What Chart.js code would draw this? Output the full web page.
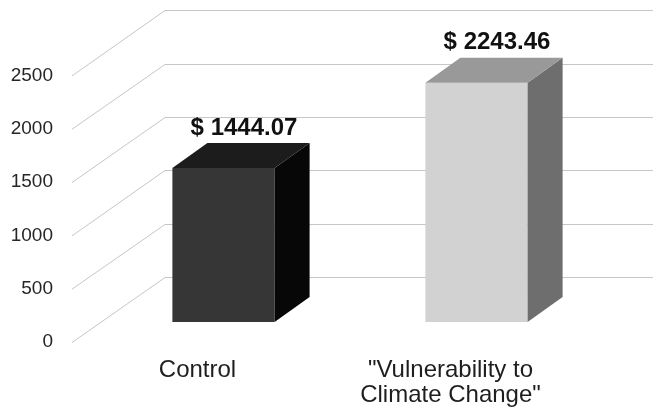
<!DOCTYPE html>
<html>
<head>
<meta charset="utf-8">
<script src="https://cdn.jsdelivr.net/npm/chart.js@4/dist/chart.umd.min.js"></script>
<style>
  html, body { margin: 0; padding: 0; background: #ffffff; }
  canvas { display: block; }
</style>
</head>
<body>
<canvas id="chart" width="653" height="411"></canvas>
<script>
// Categories and average amounts (USD)
const categories = ["Control", ["\"Vulnerability to", "Climate Change\""]];
const amounts = [1444.07, 2243.46];
const yTicks = [0, 500, 1000, 1500, 2000, 2500];

// Face colours for each bar: front, side, top
const frontColors = ["#363636", "#d2d2d2"];
const sideColors = ["#070707", "#6e6e6e"];
const topColors = ["#1c1c1c", "#999999"];

const FONT = "'Liberation Sans', Arial, Helvetica, sans-serif";

// 3D depth of the bars and of the floor / side wall
const BAR_DX = 35, BAR_DY = 25;
const WALL_FRONT_X = 72;   // front edge of the side wall
const WALL_DX = 93;        // horizontal depth of the side wall
const FRONT_DROP = 20;     // front edge sits below the bar plane
const BACK_RISE = 45;      // back wall sits above the bar plane

const perspectiveGrid = {
  id: 'perspectiveGrid',
  beforeDatasetsDraw(chart) {
    const { ctx } = chart;
    const y = chart.scales.y;
    ctx.save();
    ctx.strokeStyle = '#c6c6c6';
    ctx.lineWidth = 1;
    yTicks.forEach(v => {
      const py = y.getPixelForValue(v);
      const fx = WALL_FRONT_X, fy = py + FRONT_DROP;
      const bx = WALL_FRONT_X + WALL_DX, by = py - BACK_RISE;
      ctx.beginPath();
      ctx.moveTo(fx, fy + 0.5);
      ctx.lineTo(bx, Math.round(by) + 0.5);
      ctx.lineTo(chart.width, Math.round(by) + 0.5);
      ctx.stroke();
    });
    ctx.restore();
  }
};

const barFaces = {
  id: 'barFaces',
  afterDatasetsDraw(chart) {
    const { ctx } = chart;
    const meta = chart.getDatasetMeta(0);
    ctx.save();
    meta.data.forEach((bar, i) => {
      const { x, y, base, width } = bar.getProps(['x', 'y', 'base', 'width'], true);
      const l = x - width / 2, r = x + width / 2;
      // side face
      ctx.fillStyle = sideColors[i];
      ctx.beginPath();
      ctx.moveTo(r, y);
      ctx.lineTo(r + BAR_DX, y - BAR_DY);
      ctx.lineTo(r + BAR_DX, base - BAR_DY);
      ctx.lineTo(r, base);
      ctx.closePath();
      ctx.fill();
      // top face
      ctx.fillStyle = topColors[i];
      ctx.beginPath();
      ctx.moveTo(l, y);
      ctx.lineTo(l + BAR_DX, y - BAR_DY);
      ctx.lineTo(r + BAR_DX, y - BAR_DY);
      ctx.lineTo(r, y);
      ctx.closePath();
      ctx.fill();
      // value label above the bar
      ctx.fillStyle = '#111111';
      ctx.font = "bold 24px " + FONT;
      ctx.textAlign = 'center';
      ctx.textBaseline = 'middle';
      ctx.fillText('$ ' + amounts[i].toFixed(2), x + BAR_DX / 2 + 3, y - BAR_DY - 15);
    });
    ctx.restore();
  }
};

new Chart(document.getElementById('chart'), {
  type: 'bar',
  data: {
    labels: categories,
    datasets: [{
      data: amounts,
      backgroundColor: frontColors,
      borderWidth: 0,
      barPercentage: 0.404,
      categoryPercentage: 1.0
    }]
  },
  options: {
    responsive: false,
    animation: false,
    devicePixelRatio: 1,
    layout: { padding: { left: 0, right: 50, top: 55, bottom: 0 } },
    plugins: {
      legend: { display: false },
      tooltip: { enabled: false },
      title: { display: false }
    },
    scales: {
      x: {
        grid: { display: false, drawTicks: false },
        border: { display: false },
        afterFit(scale) { scale.height = 89; },
        ticks: {
          autoSkip: false,
          maxRotation: 0,
          minRotation: 0,
          padding: 36,
          labelOffset: -26,
          color: '#1e1e1e',
          font: { family: FONT, size: 24, lineHeight: 1.04 }
        }
      },
      y: {
        min: 0,
        max: 2500,
        grid: { display: false, drawTicks: false },
        border: { display: false },
        afterFit(scale) { scale.width = 97; },
        ticks: {
          stepSize: 500,
          padding: 44,
          labelOffset: 20,
          color: '#262626',
          font: { family: FONT, size: 19 },
          callback: (v) => String(v)
        }
      }
    }
  },
  plugins: [perspectiveGrid, barFaces]
});
</script>
</body>
</html>
